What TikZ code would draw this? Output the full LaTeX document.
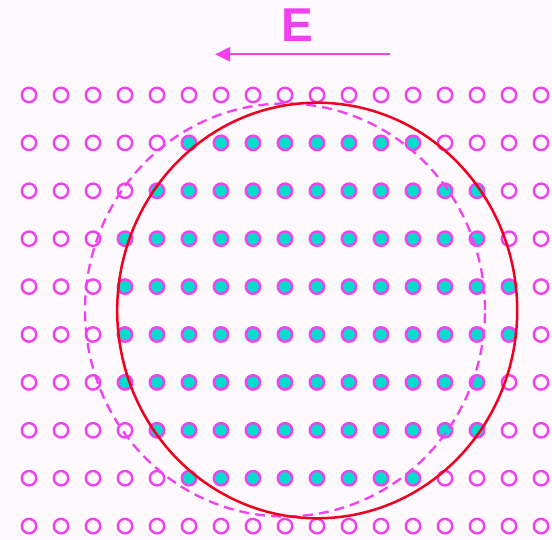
\documentclass[tikz,border=0pt]{standalone}
\usepackage{fontspec}
\setmainfont{Liberation Sans}
\usetikzlibrary{arrows.meta}
\definecolor{bgc}{RGB}{253,249,253}
\definecolor{mag}{RGB}{240,64,240}
\definecolor{cya}{RGB}{0,221,204}
\definecolor{redc}{RGB}{240,0,30}
\begin{document}
\begin{tikzpicture}[x=1pt,y=-1pt,
  ring/.style={circle,draw=mag,line width=2.4pt,minimum size=14.4pt,inner sep=0pt},
  filledring/.style={ring,fill=cya},
  field/.style={draw=mag,line width=2.2pt,-{Triangle[length=15pt,width=14pt]}},
  dashcirc/.style={draw=mag,line width=2.3pt,dash pattern=on 10pt off 6pt},
  redcirc/.style={draw=redc,line width=2.5pt}
]
\fill[bgc] (0,0) rectangle (552,540);
\useasboundingbox (0,0) rectangle (552,540);

% grid of atoms
\foreach \j/\a/\b in {0/99/-1, 1/5/12, 2/4/14, 3/3/14, 4/3/15, 5/3/15, 6/3/14, 7/4/14, 8/5/12, 9/99/-1}{
  \foreach \k in {0,...,16}{
    \def\st{filledring}
    \ifnum\k<\a \def\st{ring}\fi
    \ifnum\k>\b \def\st{ring}\fi
    \node[\st] (c-\j-\k) at ({29+32*\k},{95+47.9*\j}) {};
  }
}

% circles
\draw[dashcirc] (285,310) ellipse [x radius=200pt, y radius=206.5pt];
\draw[redcirc] (317.2,310.5) ellipse [x radius=200pt, y radius=207.8pt];

% field arrow
\coordinate (as) at (390,54.3);
\coordinate (ae) at (215,54.3);
\draw[field] (as) -- (ae);
\node[text=mag,font=\fontsize{47.5}{50}\selectfont\bfseries,inner sep=0pt] (E) at (297,25.5) {E};
\end{tikzpicture}
\end{document}
